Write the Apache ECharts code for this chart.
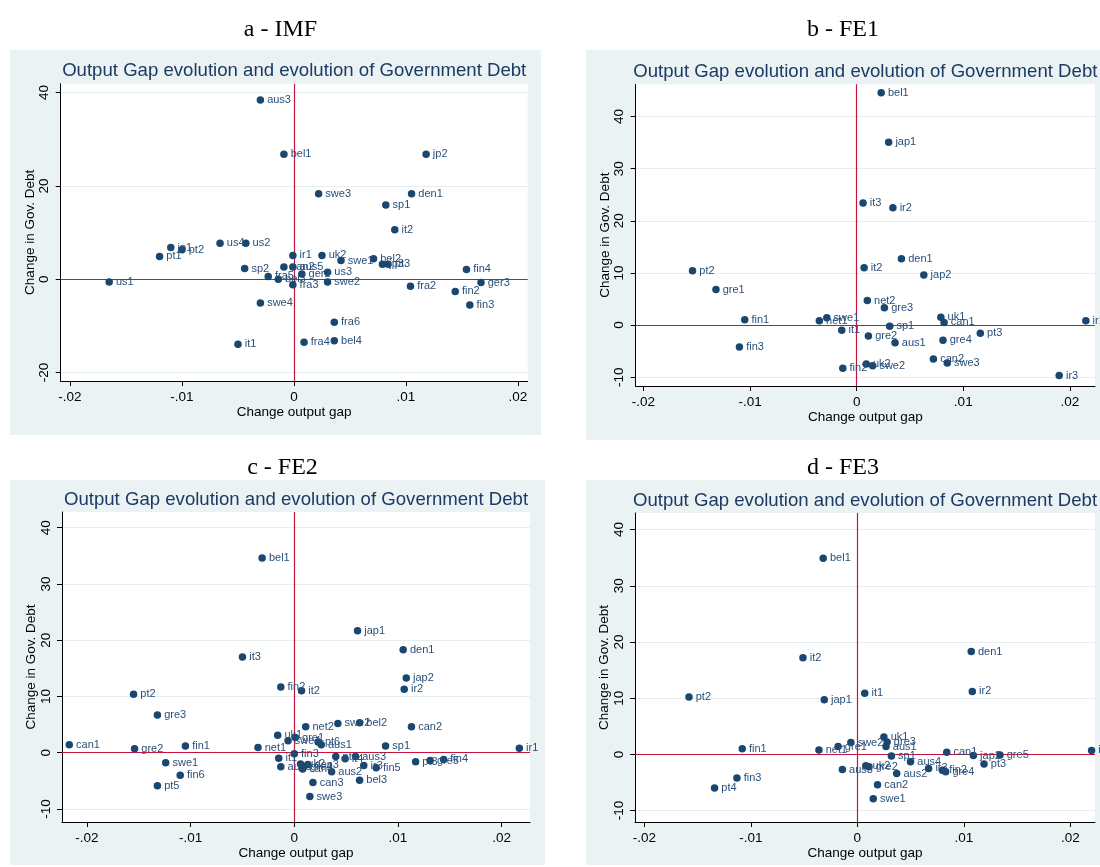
<!DOCTYPE html>
<html>
<head>
<meta charset="utf-8">
<script src="https://cdn.jsdelivr.net/npm/echarts@6/dist/echarts.min.js"></script>
<style>
html, body { margin: 0; padding: 0; background: #fff; }
#chart { width: 1100px; height: 867px; }
</style>
</head>
<body>
<div id="chart"></div>
<script>
// a - IMF
var namesA = ['aus3','bel1','jp2','swe3','den1','sp1','it2','us4','us2','jp1','pt2','pt1','us1','sp2','swe4','it1','ir1','uk2','swe1','bel2','jp3','pt3','fin4','ger3','fra2','fin2','fin3','fra6','fra4','bel4','us3','ger2','swe2','fra3','can2','aus5','fra5','bel3'];
var gapA = [-0.0030,-0.0009,0.0118,0.0022,0.0105,0.0082,0.0090,-0.0066,-0.0043,-0.0110,-0.0100,-0.0120,-0.0165,-0.0044,-0.0030,-0.0050,-0.0001,0.0025,0.0042,0.0071,0.0079,0.0084,0.0154,0.0167,0.0104,0.0144,0.0157,0.0036,0.0009,0.0036,0.0030,0.0007,0.0030,-0.0001,-0.0009,-0.0001,-0.0023,-0.0014];
var debtA = [38.4,26.8,26.8,18.3,18.3,15.9,10.6,7.7,7.7,6.8,6.3,4.9,-0.6,2.3,-5.1,-13.9,5.1,5.1,4.0,4.4,3.2,3.2,2.1,-0.7,-1.5,-2.6,-5.5,-9.2,-13.5,-13.2,1.5,1.1,-0.6,-1.2,2.6,2.6,0.6,0.0];

// b - FE1
var namesB = ['bel1','jap1','it3','ir2','den1','it2','jap2','net2','gre3','uk1','can1','ir1','sp1','it1','pt3','gre2','gre4','aus1','can2','swe3','uk2','swe2','fin2','ir3','pt2','gre1','fin1','fin3','net1','swe1'];
var gapB = [0.0023,0.0030,0.0006,0.0034,0.0042,0.0007,0.0063,0.0010,0.0026,0.0079,0.0082,0.0215,0.0031,-0.0014,0.0116,0.0011,0.0081,0.0036,0.0072,0.0085,0.0009,0.0015,-0.0013,0.0190,-0.0154,-0.0132,-0.0105,-0.0110,-0.0035,-0.0028];
var debtB = [44.6,35.1,23.4,22.5,12.7,11.0,9.6,4.7,3.3,1.5,0.5,0.8,-0.25,-1.0,-1.6,-2.1,-2.9,-3.4,-6.5,-7.3,-7.5,-7.8,-8.3,-9.7,10.4,6.8,1.0,-4.2,0.8,1.4];

// c - FE2
var namesC = ['bel1','jap1','den1','it3','jap2','ir2','fin2','it2','can1','pt2','gre3','gre2','fin1','swe1','fin6','pt5','net2','swe2','bel2','can2','uk1','gre1','swe4','pt6','aus1','net1','sp1','it1','fin3','pt4','it4','aus3','ir3','fin5','aus2','bel3','can3','swe3','aus5','uk2','gre4','den3','can4','pt3','gre5','fin4','ir1'];
var gapC = [-0.0031,0.0061,0.0105,-0.0050,0.0108,0.0106,-0.0013,0.0007,-0.0217,-0.0155,-0.0132,-0.0154,-0.0105,-0.0124,-0.0110,-0.0132,0.0011,0.0042,0.0063,0.0113,-0.0016,0.0001,-0.0006,0.0023,0.0026,-0.0035,0.0088,-0.0015,0.0000,0.0040,0.0049,0.0059,0.0067,0.0079,0.0036,0.0063,0.0018,0.0015,-0.0013,0.0006,0.0009,0.0013,0.0008,0.0117,0.0131,0.0144,0.0217];
var debtC = [34.6,21.7,18.3,17.0,13.3,11.3,11.7,11.0,1.4,10.4,6.7,0.7,1.2,-1.8,-4.0,-5.9,4.6,5.2,5.3,4.6,3.1,2.7,2.1,1.9,1.4,0.9,1.2,-1.0,-0.2,-0.7,-1.1,-0.7,-2.3,-2.7,-3.4,-4.9,-5.3,-7.8,-2.5,-2.0,-2.5,-2.1,-2.9,-1.6,-1.4,-1.2,0.8];

// d - FE3
var namesD = ['bel1','den1','ir2','it1','it2','pt2','jap1','fin1','fin3','pt4','ir1','net1','gre1','swe2','uk1','gre3','aus1','sp1','aus4','can1','jap2','gre5','pt3','ir3','fin2','gre4','aus3','uk2','gre2','aus2','can2','swe1'];
var gapD = [-0.0032,0.0107,0.0108,0.0007,-0.0051,-0.0158,-0.0031,-0.0108,-0.0113,-0.0134,0.0220,-0.0036,-0.0018,-0.0006,0.0025,0.0028,0.0027,0.0032,0.0050,0.0084,0.0109,0.0134,0.0119,0.0067,0.0080,0.0083,-0.0014,0.0008,0.0011,0.0037,0.0019,0.0015];
var debtD = [34.9,18.3,11.2,10.9,17.2,10.2,9.7,1.0,-4.2,-6.0,0.7,0.8,1.4,2.1,3.1,2.2,1.4,-0.3,-1.3,0.4,-0.2,-0.1,-1.7,-2.5,-2.8,-3.1,-2.7,-2.0,-2.2,-3.4,-5.4,-7.9];

var xTicks = 0.01;
var panelTitle = 'Output Gap evolution and evolution of Government Debt';

// layout of the four graphs
var panels = [
	{head: 'a - IMF', names: namesA, gap: gapA, debt: debtA, box: [10, 50, 531, 385], grid: [60.7, 83.7, 467, 297.3], xr: [-0.02083, 0.02087], yr: [-21.8, 41.9], yStep: 20, headTop: 13},
	{head: 'b - FE1', names: namesB, gap: gapB, debt: debtB, box: [586, 50, 520, 390], grid: [635.7, 84.3, 459.3, 301.7], xr: [-0.02073, 0.02236], yr: [-11.7, 46.2], yStep: 10, headTop: 13},
	{head: 'c - FE2', names: namesC, gap: gapC, debt: debtC, box: [10, 480, 535, 385], grid: [62, 512, 468, 310], xr: [-0.0224, 0.02273], yr: [-12.33, 42.8], yStep: 10, headTop: 451},
	{head: 'd - FE3', names: namesD, gap: gapD, debt: debtD, box: [586, 480, 520, 385], grid: [635, 513, 460, 309], xr: [-0.02087, 0.02232], yr: [-12.03, 42.95], yStep: 10, headTop: 451}
];

function gapLabel(v) {
	var s = String(Math.round(v * 100) / 100);
	return s.replace('0.', '.');
}

var option = {
	animation: false,
	textStyle: { fontFamily: 'Liberation Sans, Arial, sans-serif' },
	title: [],
	graphic: { elements: [] },
	grid: [],
	xAxis: [],
	yAxis: [],
	series: []
};

panels.forEach(function(p, i) {
	var g = p.grid;
	// grey graph region
	option.graphic.elements.push({
		type: 'rect', z: -10, silent: true,
		shape: { x: p.box[0], y: p.box[1], width: p.box[2], height: p.box[3] },
		style: { fill: '#eaf2f3' }
	});
	option.title.push({
		text: p.head, left: p.box[0] + p.box[2] / 2 - (i % 2 ? 8 : 0), top: p.headTop, textAlign: 'center',
		textStyle: { fontFamily: 'Liberation Serif, Times New Roman, serif', fontWeight: 'normal', fontSize: 24, color: '#000' }
	});
	option.title.push({
		text: panelTitle, left: g[0] + g[2] / 2 - 5, top: g[1] - 27, textAlign: 'center',
		textStyle: { fontWeight: 'normal', fontSize: 18.6, color: '#1c3a63' }
	});
	option.grid.push({
		left: g[0], top: g[1], width: g[2], height: g[3],
		show: true, backgroundColor: '#fff', borderWidth: 0, containLabel: false
	});
	option.xAxis.push({
		type: 'value', gridIndex: i, min: p.xr[0], max: p.xr[1],
		minInterval: xTicks, maxInterval: xTicks,
		name: 'Change output gap', nameLocation: 'middle', nameGap: 24,
		nameTextStyle: { fontSize: 13.5, color: '#000' },
		axisLine: { onZero: false, lineStyle: { color: '#000', width: 1 } },
		axisTick: { length: 5, lineStyle: { color: '#000' } },
		axisLabel: { showMinLabel: false, showMaxLabel: false, margin: 9, fontSize: 13.5, color: '#000', formatter: gapLabel },
		splitLine: { show: false }
	});
	option.yAxis.push({
		type: 'value', gridIndex: i, min: p.yr[0], max: p.yr[1],
		minInterval: p.yStep, maxInterval: p.yStep,
		name: 'Change in Gov. Debt', nameLocation: 'middle', nameGap: 21, nameRotate: 90,
		nameTextStyle: { fontSize: 13.5, color: '#000' },
		axisLine: { show: true, onZero: false, lineStyle: { color: '#000', width: 1 } },
		axisTick: { show: true, length: 5, lineStyle: { color: '#000' } },
		axisLabel: { showMinLabel: false, showMaxLabel: false, rotate: 90, margin: 9, fontSize: 13.5, color: '#000' },
		splitLine: { show: true, showMinLine: false, showMaxLine: false, lineStyle: { color: '#e6eef0', width: 1.2 } }
	});
	option.series.push({
		type: 'scatter', xAxisIndex: i, yAxisIndex: i,
		symbolSize: 7.5,
		itemStyle: { color: '#1a476f', opacity: 1 },
		label: {
			show: true, position: 'right', distance: 3, fontSize: 11, color: '#2a5079',
			formatter: function(d) { return d.value[2]; }
		},
		data: p.gap.map(function(x, k) { return [x, p.debt[k], p.names[k]]; }),
		markLine: {
			silent: true, symbol: 'none', z: 1,
			label: { show: false },
			lineStyle: { color: '#c8143c', width: 1.2, type: 'solid' },
			data: [{ xAxis: 0 }, { yAxis: 0 }]
		}
	});
});

var myChart = echarts.init(document.getElementById('chart'));
myChart.setOption(option);
window.onresize = myChart.resize;
</script>
</body>
</html>
